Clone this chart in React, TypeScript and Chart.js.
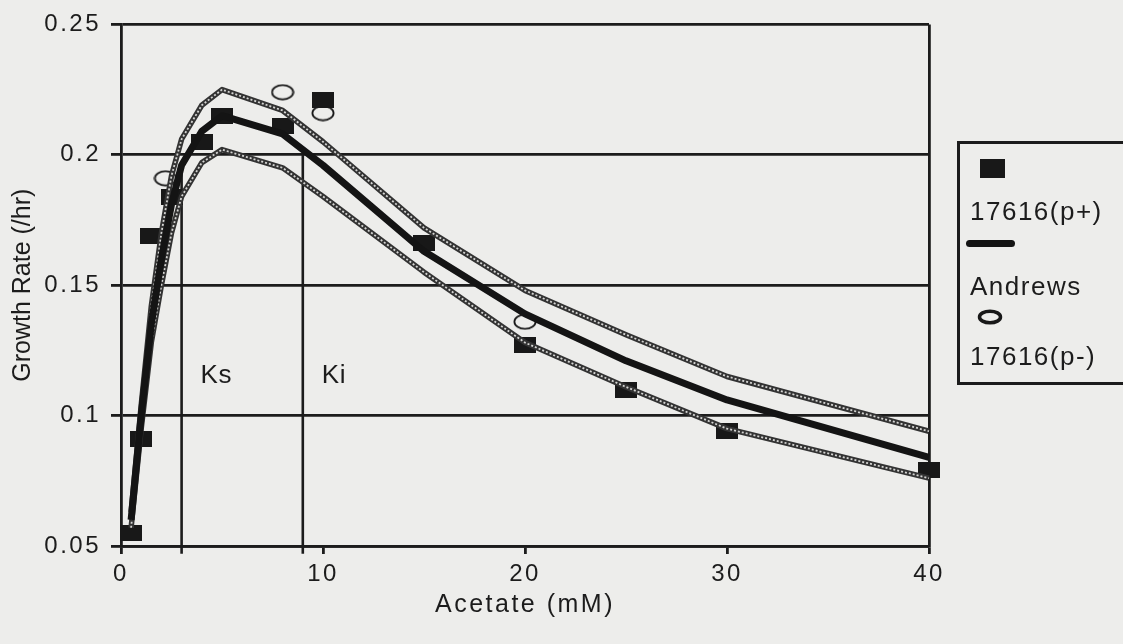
import React, { useEffect, useRef } from 'react';
import { Chart, registerables } from 'chart.js';

Chart.register(...registerables);

// ---- Data ----
const acetateModel = [0.5, 1, 1.5, 2, 2.5, 3, 4, 5, 8, 10, 15, 20, 25, 30, 40];
const andrewsFit = [0.060, 0.100, 0.135, 0.160, 0.181, 0.196, 0.209, 0.215, 0.208, 0.196, 0.163, 0.139, 0.121, 0.106, 0.084];
const upperBand = [0.063, 0.104, 0.142, 0.170, 0.192, 0.206, 0.219, 0.225, 0.217, 0.205, 0.172, 0.148, 0.131, 0.115, 0.094];
const lowerBand = [0.057, 0.095, 0.128, 0.150, 0.170, 0.184, 0.197, 0.202, 0.195, 0.184, 0.155, 0.128, 0.111, 0.095, 0.076];

const pPlusX = [0.5, 1, 1.5, 2.5, 4, 5, 8, 10, 15, 20, 25, 30, 40];
const pPlusY = [0.055, 0.091, 0.169, 0.184, 0.205, 0.215, 0.211, 0.221, 0.166, 0.127, 0.110, 0.094, 0.079];

const pMinusX = [2.2, 8, 10, 20];
const pMinusY = [0.191, 0.224, 0.216, 0.136];

const kNames = ['Ks', 'Ki'];
const kValues = [3, 9];
const kLineTop = [0.196, 0.200];
const kLineBottom = 0.047;
const kLabelY = 0.1125;

const xTickValues = [0, 10, 20, 30, 40];
const xTickLabels = ['0', '10', '20', '30', '40'];
const yTickValues = [0.05, 0.1, 0.15, 0.2, 0.25];
const yTickLabels = ['0.05', '0.1', '0.15', '0.2', '0.25'];

const legendLabels = ['17616(p+)', 'Andrews', '17616(p-)'];

const FONT = '"Liberation Sans", Arial, Helvetica, sans-serif';
const INK = '#1c1c1c';
const BG = '#ededeb';

const pts = (xs: number[], ys: number[]) => xs.map((x, i) => ({ x, y: ys[i] }));

function makeRect(w: number, h: number, color: string) {
  const c = document.createElement('canvas');
  c.width = w;
  c.height = h;
  const g = c.getContext('2d')!;
  g.fillStyle = color;
  g.fillRect(0, 0, w, h);
  return c;
}

function makeEllipse(w: number, h: number, lw: number, color: string) {
  const c = document.createElement('canvas');
  c.width = w;
  c.height = h;
  const g = c.getContext('2d')!;
  g.strokeStyle = color;
  g.lineWidth = lw;
  g.beginPath();
  g.ellipse(w / 2, h / 2, w / 2 - lw / 2 - 0.5, h / 2 - lw / 2 - 0.5, 0, 0, Math.PI * 2);
  g.stroke();
  return c;
}

const spacingPlugin = {
  id: 'spacing',
  beforeLayout(chart: any) {
    chart.ctx.letterSpacing = '2.5px';
  },
  beforeDraw(chart: any) {
    chart.ctx.letterSpacing = '2.5px';
  },
};

const kLabelPlugin = {
  id: 'kLabels',
  afterDatasetsDraw(chart: any) {
    const { ctx, scales } = chart;
    ctx.save();
    ctx.letterSpacing = '0.5px';
    ctx.font = `26px ${FONT}`;
    ctx.fillStyle = INK;
    ctx.textAlign = 'left';
    ctx.textBaseline = 'alphabetic';
    kValues.forEach((v, i) => {
      ctx.fillText(kNames[i], scales.x.getPixelForValue(v) + 19, scales.y.getPixelForValue(kLabelY));
    });
    ctx.restore();
  },
};

export default function App() {
  const ref = useRef<HTMLCanvasElement>(null);

  useEffect(() => {
    const canvas = ref.current!;
    const square = makeRect(22, 16, '#181818');
    const circle = makeEllipse(24, 17, 1.8, '#181818');

    const lineBase = (data: any, color: string, width: number, order: number, dash: number[] = []) => ({
      type: 'scatter' as const,
      data,
      showLine: true,
      borderColor: color,
      borderWidth: width,
      borderDash: dash,
      pointRadius: 0,
      pointHoverRadius: 0,
      fill: false,
      tension: 0,
      clip: false as any,
      order,
      borderJoinStyle: 'round' as const,
    });

    const kDatasets = kValues.map((v, i) =>
      lineBase(
        [
          { x: v, y: kLineBottom },
          { x: v, y: kLineTop[i] },
        ],
        INK,
        2.6,
        20
      )
    );

    const chart = new Chart(canvas, {
      type: 'scatter',
      data: {
        datasets: [
          ...kDatasets,
          {
            label: legendLabels[2],
            data: pts(pMinusX, pMinusY),
            pointStyle: circle as any,
            pointRadius: 6,
            showLine: false,
            clip: false as any,
            order: 15,
          },
          {
            label: legendLabels[0],
            data: pts(pPlusX, pPlusY),
            pointStyle: square as any,
            pointRadius: 6,
            showLine: false,
            clip: false as any,
            order: 12,
          },
          lineBase(pts(acetateModel, upperBand), '#333333', 5.5, 8),
          lineBase(pts(acetateModel, upperBand), '#d4d4d2', 1.8, 7, [2, 2]),
          lineBase(pts(acetateModel, lowerBand), '#333333', 5.5, 6),
          lineBase(pts(acetateModel, lowerBand), '#d4d4d2', 1.8, 5, [2, 2]),
          { ...lineBase(pts(acetateModel, andrewsFit), '#141414', 7, 1), label: legendLabels[1] },
        ] as any,
      },
      options: {
        responsive: false,
        maintainAspectRatio: false,
        devicePixelRatio: 1,
        animation: false,
        events: [],
        layout: { padding: { left: 0, top: 22, right: 194, bottom: 0 } },
        plugins: {
          legend: { display: false },
          tooltip: { enabled: false },
          title: { display: false },
        },
        scales: {
          x: {
            type: 'linear',
            min: 0,
            max: 40,
            afterBuildTicks: (scale: any) => {
              scale.ticks = xTickValues.map((value) => ({ value }));
            },
            ticks: {
              color: INK,
              font: { family: FONT, size: 24 },
              padding: 6,
              maxRotation: 0,
              callback: (_v: any, i: number) => xTickLabels[i],
            },
            grid: {
              drawOnChartArea: true,
              color: (c: any) => (c.tick && c.tick.value === 40 ? INK : 'rgba(0,0,0,0)'),
              tickColor: INK,
              lineWidth: 2.8,
              tickLength: 8,
            },
            border: { display: true, color: INK, width: 2.8 },
            title: {
              display: true,
              text: 'Acetate (mM)',
              color: INK,
              font: { family: FONT, size: 25 },
              padding: { top: 0, bottom: 24 },
            },
            afterFit: (scale: any) => {
              scale.height = 98;
            },
          },
          y: {
            type: 'linear',
            min: 0.05,
            max: 0.25,
            afterBuildTicks: (scale: any) => {
              scale.ticks = yTickValues.map((value) => ({ value }));
            },
            ticks: {
              color: INK,
              font: { family: FONT, size: 24 },
              padding: 10,
              callback: (_v: any, i: number) => yTickLabels[i],
            },
            grid: {
              color: INK,
              lineWidth: 2.8,
              tickLength: 10,
            },
            border: { display: true, color: INK, width: 2.8 },
            title: {
              display: true,
              text: 'Growth Rate (/hr)',
              color: INK,
              font: { family: FONT, size: 25 },
              padding: { top: 8, bottom: 0 },
            },
            afterFit: (scale: any) => {
              scale.width = 121;
              if (!scale.__wrapped) {
                const orig = scale.drawTitle.bind(scale);
                scale.drawTitle = () => {
                  const c = scale.ctx;
                  const prev = c.letterSpacing;
                  c.letterSpacing = '0px';
                  orig();
                  c.letterSpacing = prev;
                };
                scale.__wrapped = true;
              }
            },
          },
        },
      } as any,
      plugins: [spacingPlugin, kLabelPlugin],
    });

    return () => chart.destroy();
  }, []);

  const textStyle: React.CSSProperties = {
    position: 'absolute',
    left: 10,
    fontFamily: FONT,
    fontSize: 26,
    lineHeight: '26px',
    letterSpacing: '1.5px',
    color: INK,
    whiteSpace: 'nowrap',
  };

  return (
    <div
      style={{
        position: 'fixed',
        left: 0,
        top: 0,
        width: 1123,
        height: 644,
        overflow: 'hidden',
        background: BG,
      }}
    >
      <canvas ref={ref} width={1123} height={644} style={{ position: 'absolute', left: 0, top: 0, width: 1123, height: 644 }} />
      <div
        style={{
          position: 'absolute',
          left: 957,
          top: 141,
          width: 200,
          height: 238,
          border: `3px solid ${INK}`,
          boxSizing: 'content-box',
        }}
      >
        <div style={{ position: 'absolute', left: 20, top: 15, width: 25, height: 19, background: '#181818' }} />
        <div style={{ ...textStyle, top: 54 }}>{legendLabels[0]}</div>
        <div style={{ position: 'absolute', left: 6, top: 96, width: 49, height: 7, borderRadius: 4, background: '#141414' }} />
        <div style={{ ...textStyle, top: 129 }}>{legendLabels[1]}</div>
        <svg style={{ position: 'absolute', left: 17, top: 165 }} width={26} height={16}>
          <ellipse cx={13} cy={8} rx={10.5} ry={5.8} fill="none" stroke="#181818" strokeWidth={3.5} />
        </svg>
        <div style={{ ...textStyle, top: 199 }}>{legendLabels[2]}</div>
      </div>
    </div>
  );
}
